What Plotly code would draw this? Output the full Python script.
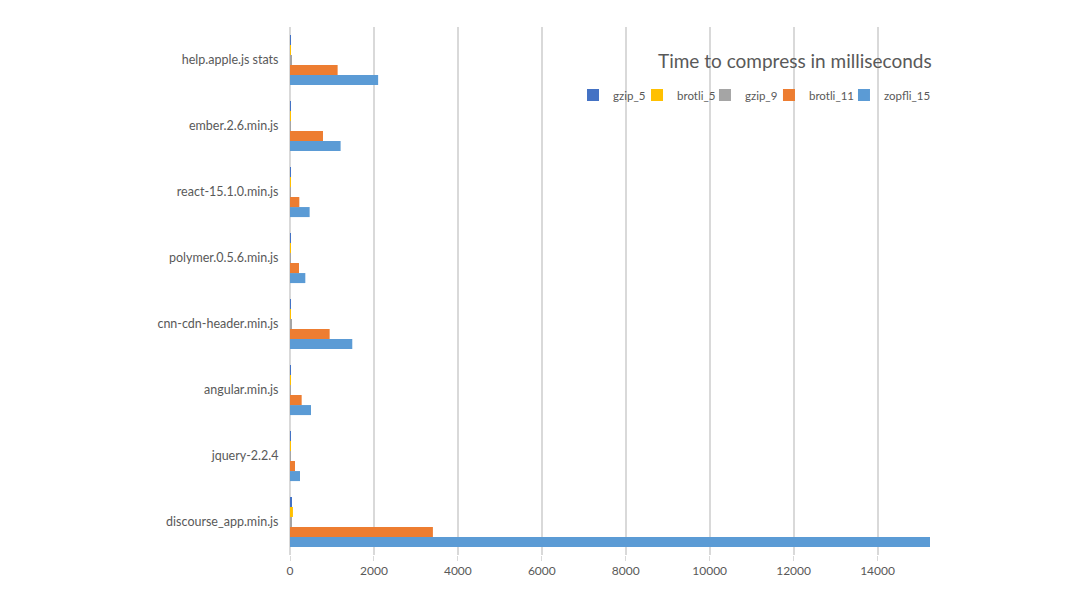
import plotly.graph_objects as go

categories = ["discourse_app.min.js", "jquery-2.2.4", "angular.min.js", "cnn-cdn-header.min.js",
              "polymer.0.5.6.min.js", "react-15.1.0.min.js", "ember.2.6.min.js", "help.apple.js stats"]

gzip_5 = [45, 2, 2, 3, 2, 2, 2, 3]
brotli_5 = [70, 2, 2, 3, 2, 2, 2, 3]
gzip_9 = [40, 8, 10, 40, 8, 8, 12, 45]
brotli_11 = [3405, 119, 278, 945, 214, 222, 786, 1135]
zopfli_15 = [15250, 238, 500, 1484, 365, 468, 1206, 2100]

series = [
    ("gzip_5", gzip_5, "#4472C4"),
    ("brotli_5", brotli_5, "#FFC000"),
    ("gzip_9", gzip_9, "#A5A5A5"),
    ("brotli_11", brotli_11, "#ED7D31"),
    ("zopfli_15", zopfli_15, "#5B9BD5"),
]

# legend x positions (paper fraction of plot area) for each series
legend_x = [0.4422, 0.5422, 0.6484, 0.7484, 0.8656]

font_family = "Lato, 'Open Sans', sans-serif"

fig = go.Figure()
legend_ids = ["legend", "legend2", "legend3", "legend4", "legend5"]
for i in reversed(range(len(series))):
    name, vals, color = series[i]
    fig.add_trace(go.Bar(
        y=categories, x=vals, name=name, orientation="h",
        marker=dict(color=color, line=dict(width=0)),
        legend=legend_ids[i],
    ))

layout_legends = {}
for i, lid in enumerate(legend_ids):
    layout_legends[lid] = dict(
        orientation="h", x=legend_x[i], xanchor="left", y=0.871, yanchor="middle",
        font=dict(size=11.5, color="#595959", family=font_family),
        bgcolor="rgba(0,0,0,0)", itemwidth=30,
    )

fig.update_layout(
    width=1070, height=596,
    paper_bgcolor="white", plot_bgcolor="white",
    barmode="group", bargap=0.24, bargroupgap=0,
    margin=dict(l=290, r=140, t=27, b=41),
    font=dict(family=font_family, color="#595959", size=12),
    showlegend=True,
    annotations=[dict(text="Time to compress in milliseconds", x=0.789, y=0.9375,
                      xref="paper", yref="paper", xanchor="center", yanchor="middle",
                      showarrow=False,
                      font=dict(size=19, color="#595959", family=font_family))],
    **layout_legends,
)
fig.update_xaxes(range=[0, 15250], dtick=2000, tickformat="d",
                 showgrid=True, gridcolor="#d9d9d9", gridwidth=1.5,
                 zeroline=True, zerolinecolor="#d9d9d9", zerolinewidth=1.5,
                 ticks="outside", ticklen=5, tickcolor="#d9d9d9",
                 tickfont=dict(size=12, color="#595959"), showline=False)
fig.update_yaxes(type="category", categoryorder="array", categoryarray=categories,
                 ticks="outside", ticklen=8, tickcolor="rgba(0,0,0,0)",
                 tickfont=dict(size=12.5, color="#595959"), showgrid=False, showline=False)

fig.write_html("out.html", config={"displayModeBar": False},
               post_script="document.body.style.margin='0';")
